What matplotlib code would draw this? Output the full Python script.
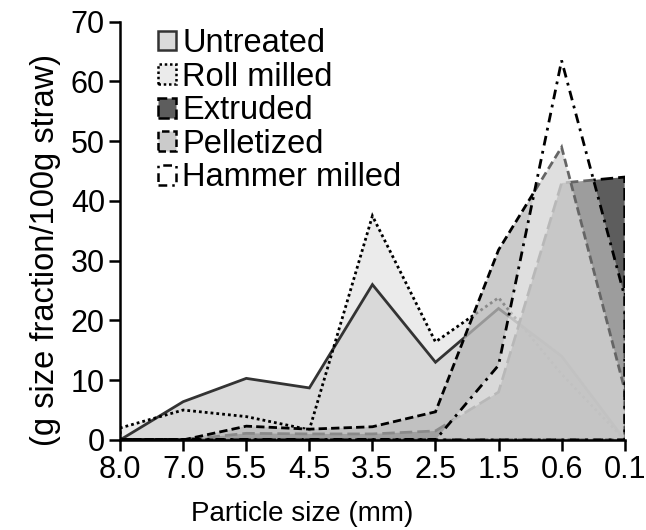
import numpy as np
import matplotlib
matplotlib.use('Agg')
import matplotlib.pyplot as plt
from matplotlib.patches import Patch

plt.rcParams['font.family'] = ['Liberation Sans', 'DejaVu Sans']

sizes = ['8.0', '7.0', '5.5', '4.5', '3.5', '2.5', '1.5', '0.6', '0.1']
untreated = [0, 6.4, 10.3, 8.7, 26.0, 13.0, 22.0, 14.0, 0]
roll_milled = [2.0, 5.0, 3.9, 1.7, 37.5, 16.4, 23.8, 11.0, 0]
extruded = [0, 0, 1.1, 1.0, 1.0, 1.5, 8.0, 43.0, 44.0]
pelletized = [0, 0, 2.3, 1.8, 2.2, 4.7, 31.8, 49.0, 8.4]
hammer_milled = [0, 0, 0, 0, 0, 0, 12.5, 63.5, 24.0]

names = ['Untreated', 'Roll milled', 'Extruded', 'Pelletized', 'Hammer milled']
series = [untreated, roll_milled, extruded, pelletized, hammer_milled]
faces = [(0.86, 0.86, 0.86, 1.0), (0.85, 0.85, 0.85, 0.5), (0.25, 0.25, 0.25, 0.85),
         (0.73, 0.73, 0.73, 0.75), (1.0, 1.0, 1.0, 0.4)]
edges = ['#333333', 'black', 'black', 'black', 'black']
styles = ['-', (0, (1, 1.1)), (0, (4.5, 1.8)), (0, (3, 1.5)), (0, (3.5, 2, 1, 2))]
# fill / outline layers; the first two outlines sit above both light fills
fill_z = [1.0, 1.1, 1.3, 1.4, 1.5]
edge_z = [1.2, 1.2, 1.3, 1.4, 1.5]

fig = plt.figure(figsize=(6.46, 5.30), dpi=100)
ax = fig.add_axes([0.186, 0.170, 0.781, 0.789])

x = np.arange(len(sizes))
for y, fc, ec, ls, fz, ez in zip(series, faces, edges, styles, fill_z, edge_z):
    px = np.concatenate([[x[0]], x, [x[-1]]])
    py = np.concatenate([[0], y, [0]])
    ax.fill(px, py, facecolor=fc, edgecolor='none', zorder=fz)
    ax.fill(px, py, facecolor='none', edgecolor=ec, linestyle=ls, linewidth=2.0, zorder=ez)

ax.set_xlim(0, len(sizes) - 1)
ax.set_ylim(0, 70)
ax.set_xticks(x)
ax.set_xticklabels(sizes)
ax.set_yticks(np.arange(0, 71, 10))
ax.tick_params(labelsize=22, width=1.8, length=8, direction='out', pad=3)
for s in ['top', 'right']:
    ax.spines[s].set_visible(False)
for s in ['left', 'bottom']:
    ax.spines[s].set_linewidth(1.8)
    ax.spines[s].set_zorder(5)

ax.set_xlabel('Particle size (mm)', fontsize=20)
ax.set_ylabel('(g size fraction/100g straw)', fontsize=23.5)
ax.xaxis.set_label_coords(0.36, -0.145)
ax.yaxis.set_label_coords(-0.118, 0.455)

handles = [Patch(facecolor=fc, edgecolor=ec, linestyle=ls, linewidth=1.8)
           for fc, ec, ls in zip(faces, edges, styles)]
ax.legend(handles, names, loc='upper left', bbox_to_anchor=(0.075, 0.985), frameon=False,
          fontsize=23.5, handlelength=0.55, handleheight=0.55, handletextpad=0.2,
          labelspacing=0.08, borderpad=0, borderaxespad=0)

fig.savefig('out.png', dpi=100)
